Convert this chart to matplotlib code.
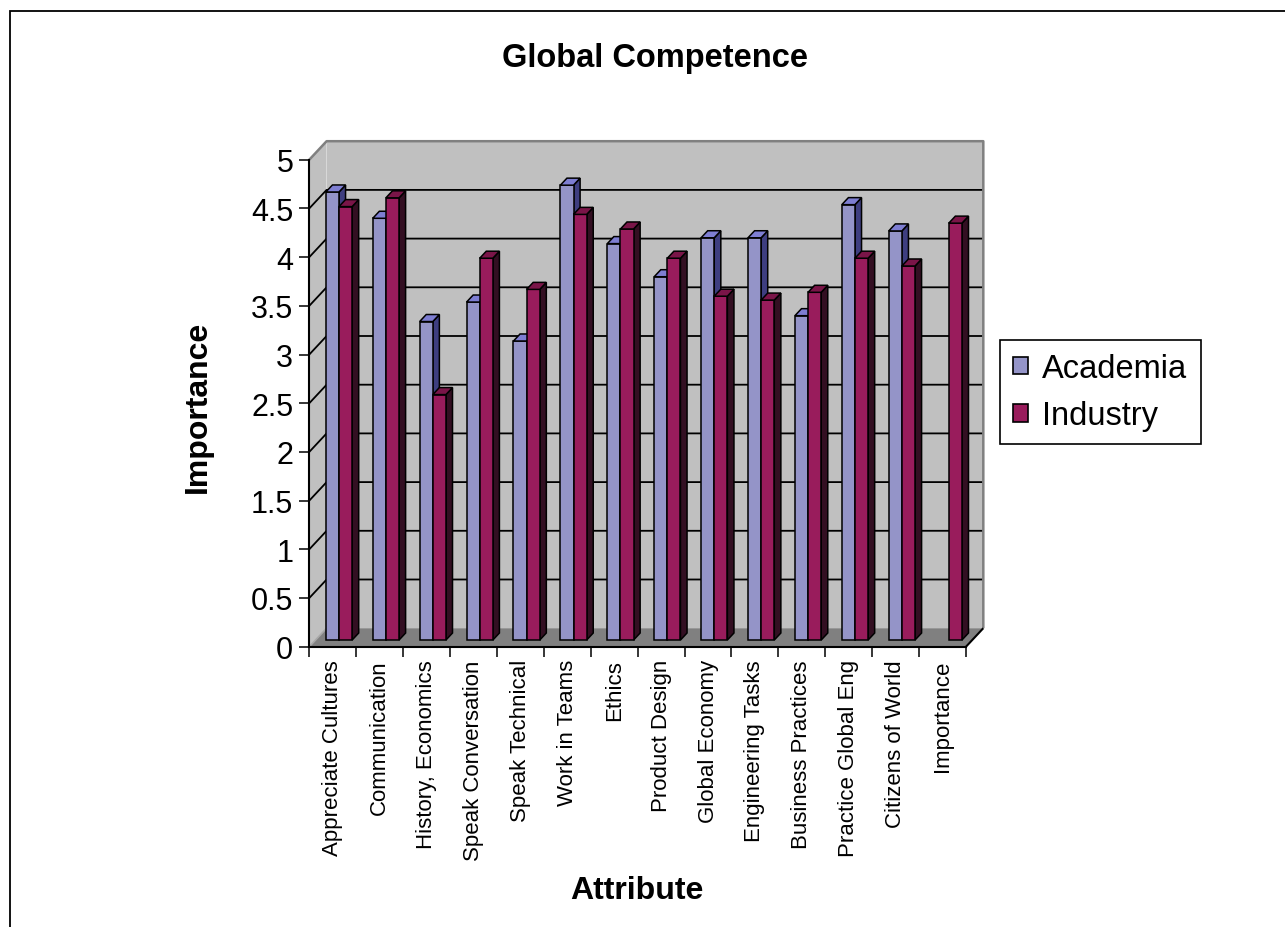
import numpy as np
import matplotlib
matplotlib.use("Agg")
import matplotlib.pyplot as plt
from matplotlib.patches import Polygon, Patch, Rectangle
from matplotlib.ticker import FixedLocator, NullFormatter, FuncFormatter

plt.rcParams["font.family"] = ["Liberation Sans", "DejaVu Sans"]

# Survey means per attribute (Academia has no "Importance" entry)
attributes = [
    "Appreciate Cultures", "Communication", "History, Economics",
    "Speak Conversation", "Speak Technical", "Work in Teams", "Ethics",
    "Product Design", "Global Economy", "Engineering Tasks",
    "Business Practices", "Practice Global Eng", "Citizens of World",
    "Importance",
]
academia = [4.60, 4.33, 3.27, 3.47, 3.07, 4.67, 4.07, 3.73, 4.13, 4.13,
            3.33, 4.47, 4.20, np.nan]
industry = [4.45, 4.54, 2.52, 3.92, 3.60, 4.37, 4.22, 3.92, 3.53, 3.49,
            3.57, 3.92, 3.84, 4.28]
series_names = ["Academia", "Industry"]
y_ticks = np.arange(0, 5.01, 0.5)

# face colours: front, top, side
palette = {
    "Academia": ("#9494c8", "#7e7ed2", "#3e3e80"),
    "Industry": ("#991c5c", "#7a1548", "#330f22"),
}

W, H, DPI = 1285, 928, 100
fig = plt.figure(figsize=(W / DPI, H / DPI), dpi=DPI)
ax = fig.add_axes([309.3 / W, 1 - 647.7 / H, 656.7 / W, 487.0 / H])

n = len(attributes)
ymax = 5.0
ax.set_xlim(0, n)
ax.set_ylim(0, ymax)
ax.patch.set_visible(False)

# oblique depth vector, in data units, for a full floor depth of 1
DX, DY = 0.369, 0.19


def proj(x, y, d):
    return (x + d * DX, y + d * DY)


def face(pts, fc, ec="none", lw=0.0, z=1.0):
    poly = Polygon([proj(*p) for p in pts], closed=True, facecolor=fc,
                   edgecolor=ec, linewidth=lw, clip_on=False, zorder=z,
                   joinstyle="miter")
    ax.add_patch(poly)


def line3(pts, color, lw, z=1.0):
    xy = np.array([proj(*p) for p in pts])
    ax.plot(xy[:, 0], xy[:, 1], color=color, lw=lw, clip_on=False,
            zorder=z, solid_capstyle="butt")


# walls and floor
face([(0, 0, 0), (0, 0, 1), (0, ymax, 1), (0, ymax, 0)], "#c0c0c0", z=0.2)
face([(0, 0, 1), (n, 0, 1), (n, ymax, 1), (0, ymax, 1)], "#c0c0c0", z=0.2)
face([(0, 0, 0), (n, 0, 0), (n, 0, 1), (0, 0, 1)], "#808080", z=0.3)

for v in y_ticks[1:-1]:
    line3([(0, v, 0), (0, v, 1), (n, v, 1)], "black", 1.3, z=0.5)

line3([(0, ymax, 0), (0, ymax, 1), (n, ymax, 1), (n, 0, 1)], "#808080", 1.8, z=0.6)
line3([(0, 0, 0), (0, 0, 1)], "#a8a8a8", 1.2, z=0.6)
line3([(n, 0, 0), (n, 0, 1)], "black", 1.5, z=0.6)

# 3-D bars
bar_w = 0.28
d0, d1 = 0.36, 0.74
z = 2.0
for i in range(n):
    for k, (name, vals) in enumerate(zip(series_names, [academia, industry])):
        v = vals[i]
        if np.isnan(v):
            continue
        x0 = i + 0.5 - bar_w + k * bar_w
        x1 = x0 + bar_w
        fc, tc, sc = palette[name]
        face([(x1, 0, d0), (x1, 0, d1), (x1, v, d1), (x1, v, d0)], sc,
             "black", 1.1, z)
        face([(x0, 0, d0), (x1, 0, d0), (x1, v, d0), (x0, v, d0)], fc,
             "black", 1.1, z)
        face([(x0, v, d0), (x1, v, d0), (x1, v, d1), (x0, v, d1)], tc,
             "black", 1.1, z)
        z += 0.01

# axes lines and ticks
for s in ("top", "right"):
    ax.spines[s].set_visible(False)
for s in ("left", "bottom"):
    ax.spines[s].set_linewidth(1.5)
    ax.spines[s].set_zorder(3)

ax.yaxis.set_major_locator(FixedLocator(y_ticks))
ax.yaxis.set_major_formatter(FuncFormatter(lambda v, _: f"{v:g}"))
ax.tick_params(axis="y", direction="out", length=7.5, width=1.1, pad=4,
               labelsize=22)

ax.xaxis.set_major_locator(FixedLocator(np.arange(n + 1)))
ax.xaxis.set_major_formatter(NullFormatter())
ax.xaxis.set_minor_locator(FixedLocator(np.arange(n) + 0.5))
ax.set_xticklabels(attributes, minor=True, rotation=90, fontsize=16)
ax.tick_params(axis="x", which="major", direction="out", length=7.5, width=1.1)
ax.tick_params(axis="x", which="minor", length=0, pad=9)

fig.text(655 / W, 1 - 59 / H, "Global Competence", ha="center", va="center",
         fontsize=23.5, fontweight="bold")
fig.text(198 / W, 1 - 407 / H, "Importance", ha="center", va="center",
         rotation=90, fontsize=23, fontweight="bold")
fig.text(637 / W, 1 - 891 / H, "Attribute", ha="center", va="center",
         fontsize=23, fontweight="bold")

handles = [Patch(facecolor=palette[s][0], edgecolor="black", linewidth=1.2)
           for s in series_names]
leg = fig.legend(handles, series_names, loc="upper left",
                 bbox_to_anchor=(1000 / W, 1 - 341 / H),
                 bbox_transform=fig.transFigure, borderaxespad=0,
                 fontsize=23.5, handlelength=0.45, handleheight=0.45,
                 handletextpad=0.45, labelspacing=0.5, borderpad=0.4,
                 fancybox=False, framealpha=1)
leg.get_frame().set_edgecolor("black")
leg.get_frame().set_linewidth(1.2)

# chart area border (runs off the right and bottom edges)
fig.add_artist(Rectangle((10 / W, -0.1), 1.2, 1.1 - 12 / H,
                         transform=fig.transFigure, fill=False,
                         edgecolor="black", linewidth=1.3, clip_on=False))

fig.savefig("out.png", dpi=DPI)
